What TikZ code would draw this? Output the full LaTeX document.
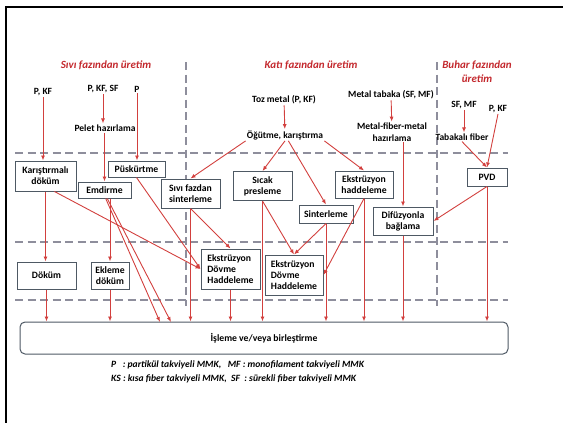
\documentclass[tikz,border=0pt]{standalone}
\usepackage{fontspec}
\setmainfont{Carlito}
\usetikzlibrary{arrows.meta,calc,positioning}
\definecolor{flowred}{HTML}{D2403E}
\definecolor{titlered}{HTML}{C3282D}
\definecolor{boxgray}{HTML}{4E5964}
\definecolor{sepgray}{HTML}{8E8E9C}
\tikzset{
  flow/.style={-{Latex[length=5pt,width=4pt]},flowred,line width=0.9pt},
  sepline/.style={sepgray,line width=1.1pt,dash pattern=on 8pt off 4.5pt},
  procbox/.style={draw=boxgray,line width=1pt,fill=white,align=center,inner sep=1pt,font=\fontsize{9.7}{11}\selectfont\bfseries},
  lbl/.style={align=center,inner sep=1pt,font=\fontsize{9.5}{11.5}\selectfont\bfseries},
  phasetitle/.style={titlered,align=center,inner sep=1pt,font=\fontsize{11}{14}\selectfont\bfseries\itshape},
  legendtext/.style={align=left,inner sep=0pt,font=\fontsize{9.6}{14}\selectfont\bfseries\itshape}
}

\begin{document}
\begin{tikzpicture}[x=1pt,y=-1pt]
\useasboundingbox (0,0) rectangle (563,423);
\draw[line width=2.5pt] (6,423)--(6,7)--(563,7);
% separators
\foreach \y in {153,242,300}{\draw[sepline] (15,\y)--(508,\y);}
\foreach \x in {186,437}{\draw[sepline] (\x,62)--(\x,306);}
% phase titles
\node[phasetitle] (tsivi) at (106,65) {Sıvı fazından üretim};
\node[phasetitle] (tkati) at (311,65) {Katı fazından üretim};
\node[phasetitle] (tbuhar) at (477,72) {Buhar fazından\\üretim};
% inputs and steps
\node[lbl] (pkf) at (43,92) {P, KF};
\node[lbl] (pkfsf) at (103,89) {P, KF, SF};
\node[lbl] (p) at (137,89) {P};
\node[lbl] (pelet) at (105,128) {Pelet hazırlama};
\node[lbl] (toz) at (284,100) {Toz metal (P, KF)};
\node[lbl] (ogut) at (285,135) {Öğütme, karıştırma};
\node[lbl] (mtab) at (391,95) {Metal tabaka (SF, MF)};
\node[lbl] (mfm) at (392,132) {Metal-fiber-metal\\hazırlama};
\node[lbl] (sfmf) at (464,105) {SF, MF};
\node[lbl] (pkfb) at (498,109) {P, KF};
\node[lbl] (tabf) at (462,137) {Tabakalı fiber};
% boxes
\node[procbox,minimum width=61pt,minimum height=30pt] (kard) at (45.5,176) {Karıştırmalı\\döküm};
\node[procbox,minimum width=57pt,minimum height=16pt] (pusk) at (136.5,169) {Püskürtme};
\node[procbox,minimum width=53pt,minimum height=16pt] (emd) at (104.5,190) {Emdirme};
\node[procbox,minimum width=59pt,minimum height=29pt] (svs) at (190.5,193.5) {Sıvı fazdan\\sinterleme};
\node[procbox,minimum width=59pt,minimum height=29pt] (sicak) at (262.5,186) {Sıcak\\presleme};
\node[procbox,minimum width=58pt,minimum height=27pt] (ekh) at (364,184.5) {Ekstrüzyon\\haddeleme};
\node[procbox,minimum width=54pt,minimum height=18pt] (sint) at (326,214) {Sinterleme};
\node[procbox,minimum width=60pt,minimum height=28pt] (dif) at (403,221) {Difüzyonla\\bağlama};
\node[procbox,minimum width=40pt,minimum height=18pt] (pvd) at (487,177) {PVD};
\node[procbox,minimum width=59pt,minimum height=27pt] (dokum) at (46.5,275.5) {Döküm};
\node[procbox,minimum width=38pt,minimum height=27pt] (ekl) at (110,275.5) {Ekleme\\döküm};
\node[procbox,align=left,minimum width=59pt,minimum height=40pt] (edhA) at (230.5,269) {Ekstrüzyon\\Dövme\\Haddeleme};
\node[procbox,align=left,minimum width=58pt,minimum height=40pt] (edhB) at (294,275) {Ekstrüzyon\\Dövme\\Haddeleme};
\node[procbox,rounded corners=5pt,minimum width=488pt,minimum height=32pt] (isl) at (264,338) {İşleme ve/veya birleştirme};
\coordinate (emdendA) at (160,322);
\coordinate (emdendB) at (171,322);
% liquid phase
\draw[flow] (pkf.south)--(pkf.south |- kard.north);
\draw[flow] (pkfsf.south)--(pkfsf.south |- pelet.north);
\draw[flow] (emd.north |- pelet.south)--(emd.north);
\draw[flow] (p.south)--(p.south |- pusk.north);
\draw[flow] (kard.south)--(kard.south |- dokum.north);
\draw[flow] (kard.-60)--(edhA.west);
\draw[flow] (pusk.south)--(edhA.west);
\draw[flow] (ekl.north |- emd.south)--(ekl.north);
\draw[flow] (emd.-82)--(emdendA);
\draw[flow] (emd.-72)--(emdendB);
\draw[flow] (svs.south)--(edhA.north);
% solid phase
\draw[flow] (toz)--(ogut);
\draw[flow] (ogut.south west)--(svs.north);
\draw[flow] (ogut.south)--(sicak.north);
\draw[flow] (ogut.-60)--(sint.north);
\draw[flow] (ogut.south east)--(ekh.north);
\draw[flow] (mtab)--(mfm);
\draw[flow] (dif.north |- mfm.south)--(dif.north);
\draw[flow] (sicak.south)--(edhB.north);
\draw[flow] (sint.south)--(edhB.north);
\draw[flow] (ekh.south)--(edhB.east);
% vapour phase
\draw[flow] (sfmf.south)--(sfmf.south |- tabf.north);
\draw[flow] (tabf.south)--(pvd.north);
\draw[flow] (pkfb.south)--(pvd.north);
\draw[flow] (pvd.south)--(dif.east);
% into final step
\foreach \src in {dokum,ekl,svs,edhA,sicak,sint,ekh,dif,pvd}{\draw[flow] (\src.south)--(\src.south |- isl.north);}
\node[legendtext,anchor=north west] (legend) at (111,361) {P \ \ : partikül takviyeli MMK, \ \ MF : monofilament takviyeli MMK\\KS : kısa fiber takviyeli MMK, \ SF \ : sürekli fiber takviyeli MMK};
\end{tikzpicture}
\end{document}
